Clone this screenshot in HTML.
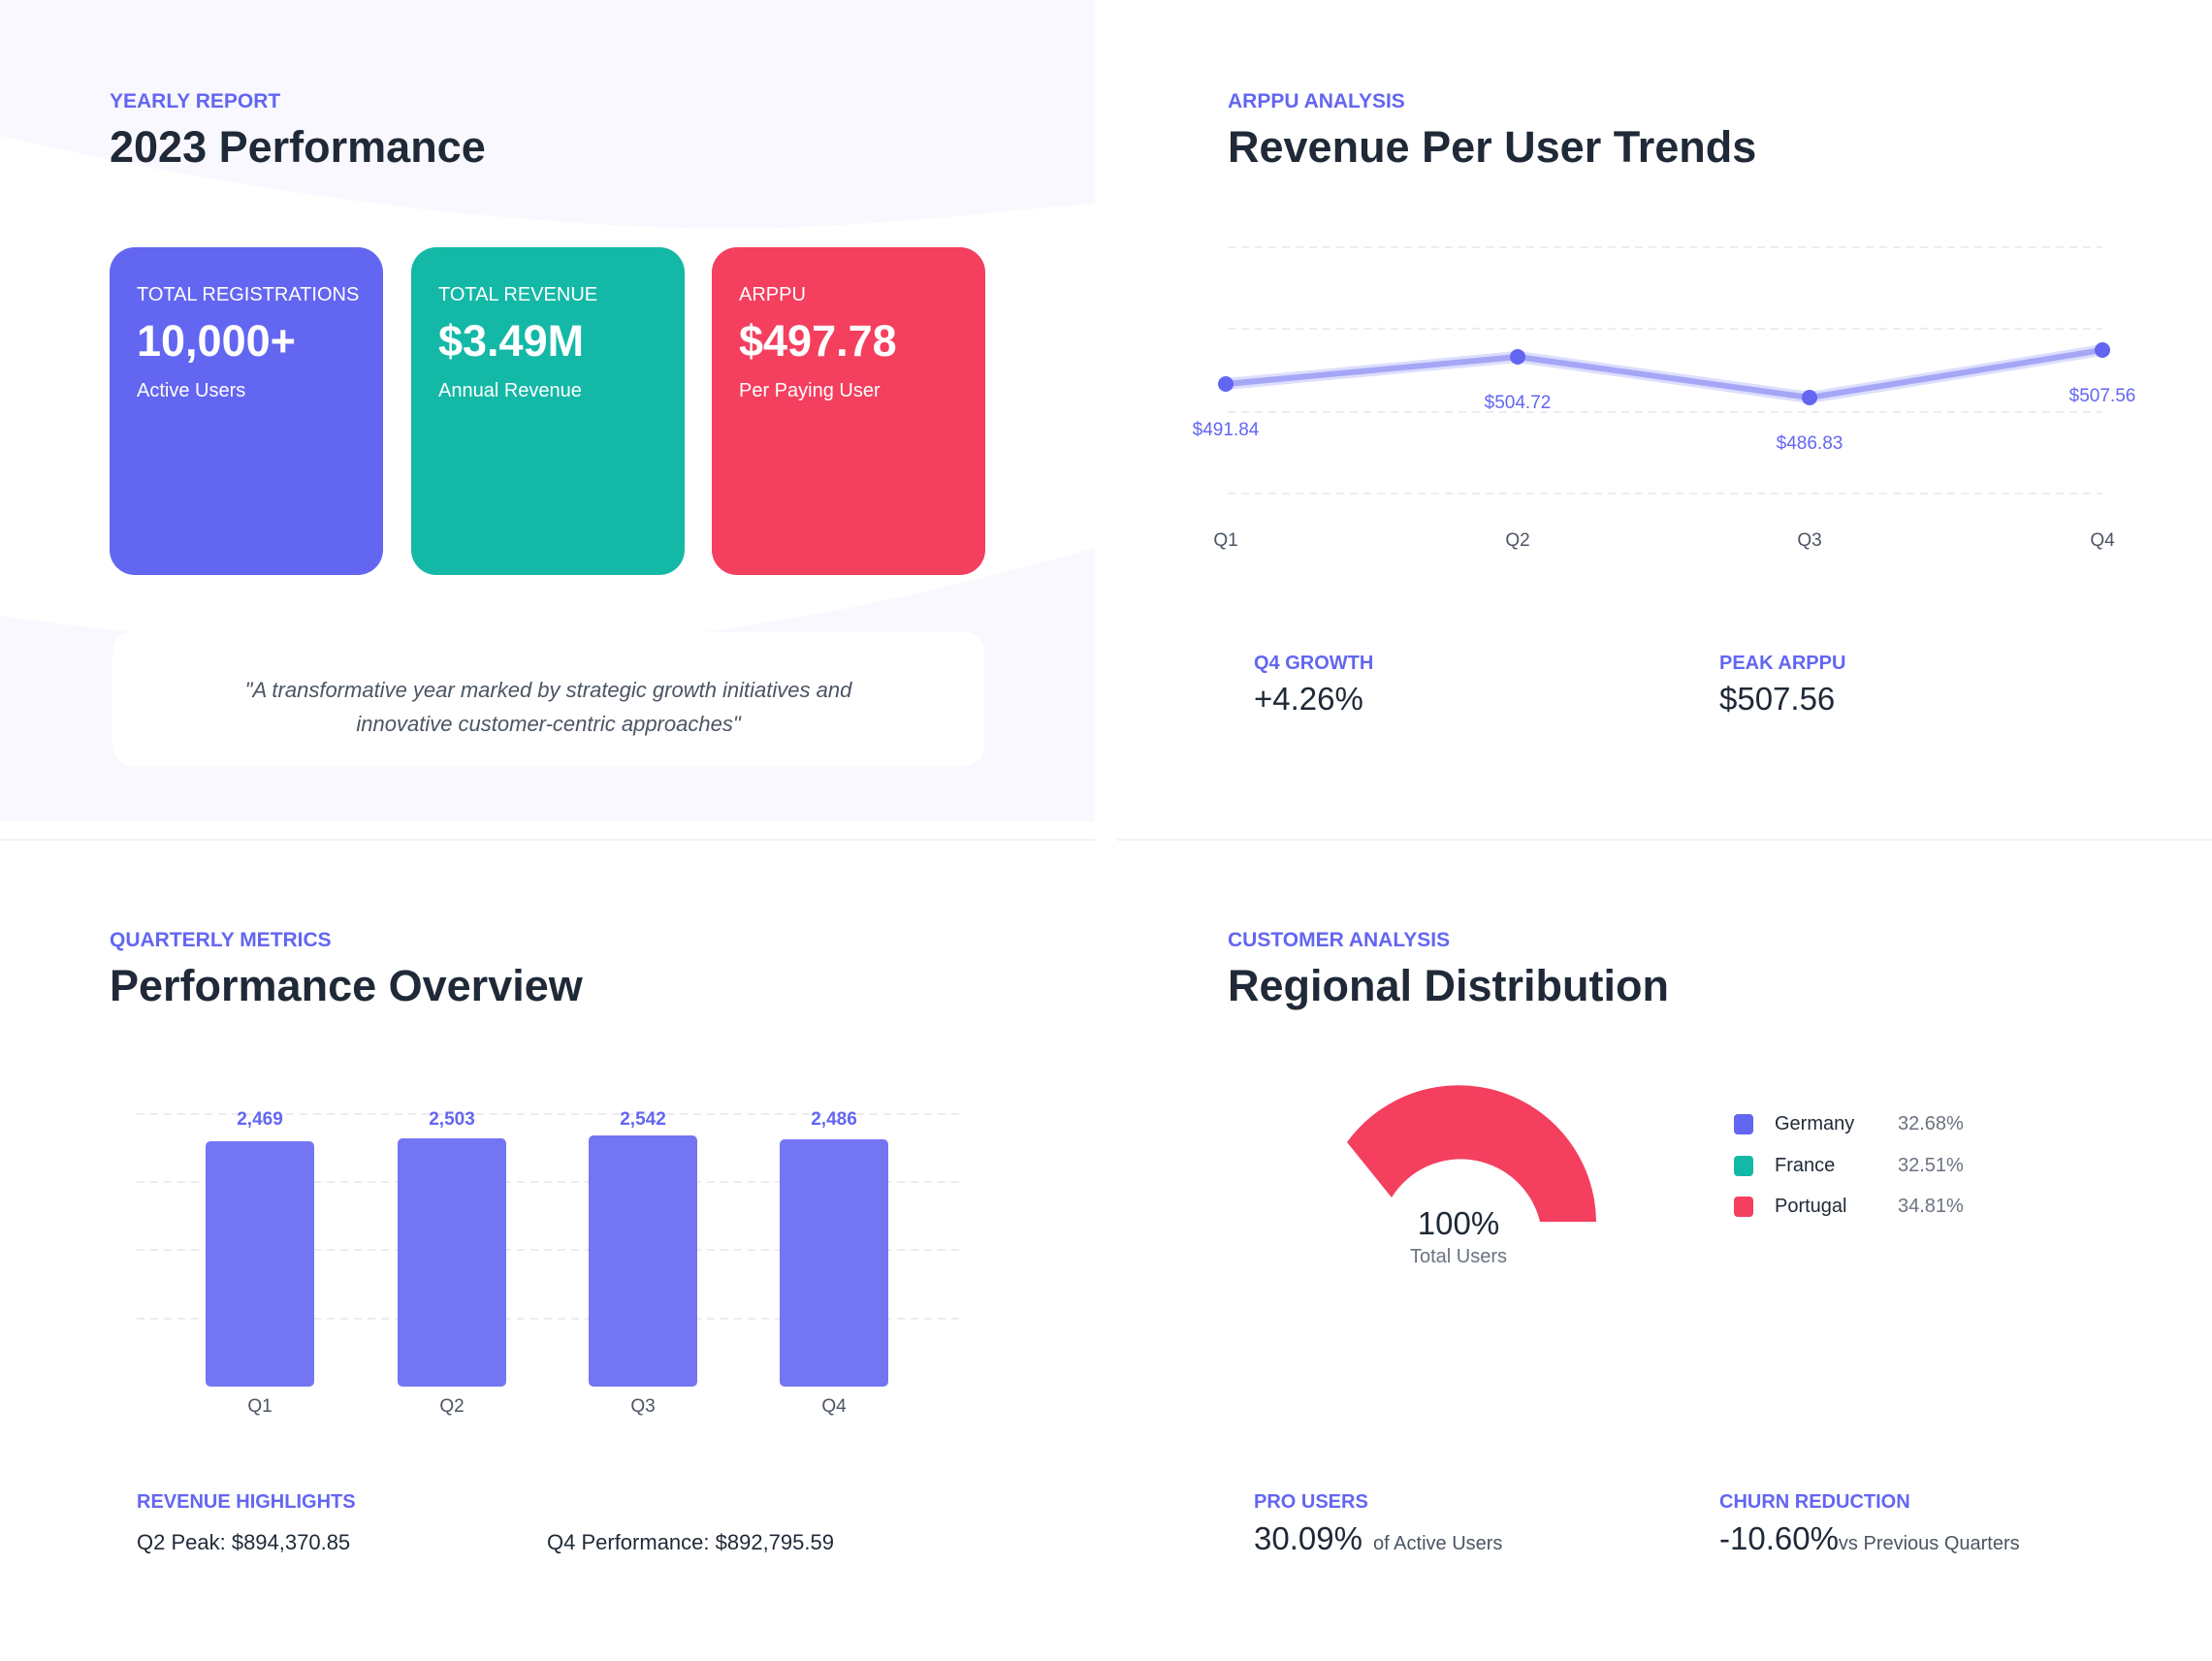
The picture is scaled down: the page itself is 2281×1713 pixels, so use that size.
<!DOCTYPE html>
<html><head><meta charset="utf-8"><style>
*{margin:0;padding:0;box-sizing:border-box}
body{width:2281px;height:1713px;background:#fff;position:relative;overflow:hidden;font-family:"Liberation Sans",sans-serif;color:#1f2937}
.a{position:absolute;white-space:nowrap}
.lbl{font-size:21px;font-weight:bold;color:#6366f1;line-height:21px}
.ttl{font-size:45px;font-weight:bold;color:#1f2937;line-height:45px}
.card{position:absolute;top:255px;width:282px;height:338px;border-radius:26px;color:#fff}
.card .l{position:absolute;left:28px;top:39px;font-size:20px;line-height:20px}
.card .v{position:absolute;left:28px;top:74px;font-size:45px;font-weight:bold;line-height:45px}
.card .s{position:absolute;left:28px;top:138px;font-size:20px;line-height:20px}
.ax{font-size:19px;color:#4b5563;line-height:19px;transform:translateX(-50%)}
.pl{font-size:19px;color:#6366f1;line-height:19px;transform:translateX(-50%)}
.big{font-size:33px;line-height:33px;color:#1f2937}
</style></head><body>
<svg class="a" style="left:0;top:0" width="2281" height="1713">
<rect x="0" y="0" width="1129" height="847" fill="#f8f8fe"/>
<path d="M0,140 C300,210 600,240 800,235 C950,230 1050,215 1129,210 L1129,565 C900,630 700,665 500,670 C300,670 100,650 0,635 Z" fill="#ffffff"/>
<line x1="0" y1="866" x2="1129" y2="866" stroke="#f1f1f4" stroke-width="2"/>
<line x1="1152" y1="866" x2="2281" y2="866" stroke="#f1f1f4" stroke-width="2"/>
<g stroke="#e5e7eb" stroke-width="1.5" stroke-dasharray="8,6">
<line x1="1266" y1="255" x2="2168" y2="255"/><line x1="1266" y1="339" x2="2168" y2="339"/>
<line x1="1266" y1="425" x2="2168" y2="425"/><line x1="1266" y1="509" x2="2168" y2="509"/>
<line x1="141" y1="1149" x2="989" y2="1149"/><line x1="141" y1="1219" x2="989" y2="1219"/>
<line x1="141" y1="1289" x2="989" y2="1289"/><line x1="141" y1="1360" x2="989" y2="1360"/>
</g>
<polyline points="1264,396 1565,368 1866,410 2168,361" fill="none" stroke="#c7c8fb" stroke-width="12" stroke-linejoin="round" opacity="0.6"/>
<polyline points="1264,396 1565,368 1866,410 2168,361" fill="none" stroke="#a5a6f6" stroke-width="6" stroke-linejoin="round"/>
<g fill="#6366f1"><circle cx="1264" cy="396" r="8"/><circle cx="1565" cy="368" r="8"/><circle cx="1866" cy="410" r="8"/><circle cx="2168" cy="361" r="8"/></g>
<g fill="#7475f3">
<rect x="212" y="1177" width="112" height="253" rx="5"/>
<rect x="410" y="1174" width="112" height="256" rx="5"/>
<rect x="607" y="1171" width="112" height="259" rx="5"/>
<rect x="804" y="1175" width="112" height="255" rx="5"/>
</g>
<path d="M1646,1260 A142,142 0 0 0 1389,1178 L1435,1235 A84,84 0 0 1 1588,1260 Z" fill="#f43f5e"/>
<rect x="1788" y="1149" width="20" height="21" rx="4" fill="#6366f1"/>
<rect x="1788" y="1192" width="20" height="21" rx="4" fill="#14b8a6"/>
<rect x="1788" y="1234" width="20" height="21" rx="4" fill="#f43f5e"/>
</svg>

<div class="a lbl" style="left:113px;top:94px">YEARLY REPORT</div>
<div class="a ttl" style="left:113px;top:129px">2023 Performance</div>
<div class="card" style="left:113px;background:#6366f1"><div class="l">TOTAL REGISTRATIONS</div><div class="v">10,000+</div><div class="s">Active Users</div></div>
<div class="card" style="left:424px;background:#14b8a6"><div class="l">TOTAL REVENUE</div><div class="v">$3.49M</div><div class="s">Annual Revenue</div></div>
<div class="card" style="left:734px;background:#f43f5e"><div class="l">ARPPU</div><div class="v">$497.78</div><div class="s">Per Paying User</div></div>
<div class="a" style="left:116px;top:652px;width:899px;height:138px;background:#fff;border-radius:20px"></div>
<div class="a" style="left:116px;top:694px;width:899px;text-align:center;font-style:italic;font-size:22px;line-height:35px;color:#4b5563;white-space:normal">"A transformative year marked by strategic growth initiatives and<br>innovative customer-centric approaches"</div>

<div class="a lbl" style="left:1266px;top:94px">ARPPU ANALYSIS</div>
<div class="a ttl" style="left:1266px;top:129px">Revenue Per User Trends</div>
<div class="a pl" style="left:1264px;top:434px">$491.84</div>
<div class="a pl" style="left:1565px;top:406px">$504.72</div>
<div class="a pl" style="left:1866px;top:448px">$486.83</div>
<div class="a pl" style="left:2168px;top:399px">$507.56</div>
<div class="a ax" style="left:1264px;top:548px">Q1</div>
<div class="a ax" style="left:1565px;top:548px">Q2</div>
<div class="a ax" style="left:1866px;top:548px">Q3</div>
<div class="a ax" style="left:2168px;top:548px">Q4</div>
<div class="a lbl" style="left:1293px;top:674px;font-size:20px">Q4 GROWTH</div>
<div class="a big" style="left:1293px;top:704px">+4.26%</div>
<div class="a lbl" style="left:1773px;top:674px;font-size:20px">PEAK ARPPU</div>
<div class="a big" style="left:1773px;top:704px">$507.56</div>

<div class="a lbl" style="left:113px;top:959px">QUARTERLY METRICS</div>
<div class="a ttl" style="left:113px;top:994px">Performance Overview</div>
<div class="a pl" style="left:268px;top:1145px;font-weight:bold">2,469</div>
<div class="a pl" style="left:466px;top:1145px;font-weight:bold">2,503</div>
<div class="a pl" style="left:663px;top:1145px;font-weight:bold">2,542</div>
<div class="a pl" style="left:860px;top:1145px;font-weight:bold">2,486</div>
<div class="a ax" style="left:268px;top:1441px">Q1</div>
<div class="a ax" style="left:466px;top:1441px">Q2</div>
<div class="a ax" style="left:663px;top:1441px">Q3</div>
<div class="a ax" style="left:860px;top:1441px">Q4</div>
<div class="a lbl" style="left:141px;top:1539px;font-size:20px">REVENUE HIGHLIGHTS</div>
<div class="a" style="left:141px;top:1580px;font-size:22px;line-height:22px">Q2 Peak: $894,370.85</div>
<div class="a" style="left:564px;top:1580px;font-size:22px;line-height:22px">Q4 Performance: $892,795.59</div>

<div class="a lbl" style="left:1266px;top:959px">CUSTOMER ANALYSIS</div>
<div class="a ttl" style="left:1266px;top:994px">Regional Distribution</div>
<div class="a big" style="left:1504px;top:1245px;transform:translateX(-50%)">100%</div>
<div class="a" style="left:1504px;top:1286px;transform:translateX(-50%);font-size:20px;line-height:20px;color:#6b7280">Total Users</div>
<div class="a" style="left:1830px;top:1149px;font-size:20px;line-height:20px">Germany</div>
<div class="a" style="left:1957px;top:1149px;font-size:20px;line-height:20px;color:#6b7280">32.68%</div>
<div class="a" style="left:1830px;top:1192px;font-size:20px;line-height:20px">France</div>
<div class="a" style="left:1957px;top:1192px;font-size:20px;line-height:20px;color:#6b7280">32.51%</div>
<div class="a" style="left:1830px;top:1234px;font-size:20px;line-height:20px">Portugal</div>
<div class="a" style="left:1957px;top:1234px;font-size:20px;line-height:20px;color:#6b7280">34.81%</div>
<div class="a lbl" style="left:1293px;top:1539px;font-size:20px">PRO USERS</div>
<div class="a" style="left:1293px;top:1568px"><span style="font-size:33px">30.09%</span><span style="font-size:20px;color:#4b5563"> &nbsp;of Active Users</span></div>
<div class="a lbl" style="left:1773px;top:1539px;font-size:20px">CHURN REDUCTION</div>
<div class="a" style="left:1773px;top:1568px"><span style="font-size:33px">-10.60%</span><span style="font-size:20px;color:#4b5563">vs Previous Quarters</span></div>
</body></html>
